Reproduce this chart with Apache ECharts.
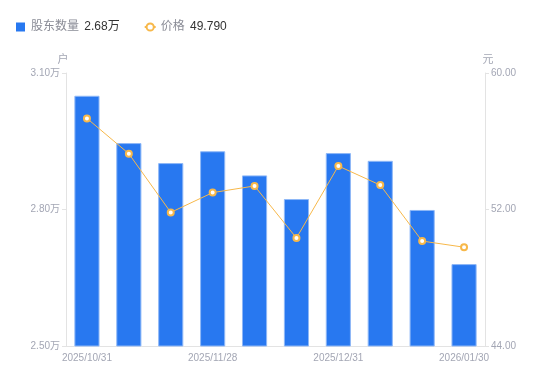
<!DOCTYPE html>
<html><head><meta charset="utf-8">
<script src="https://cdn.jsdelivr.net/npm/echarts@6/dist/echarts.min.js"></script>
<style>html,body{margin:0;padding:0;background:#fff}#c{width:550px;height:381px}</style>
</head><body><div id="c"></div>
<script>
const categories = ['2025/10/31','2025/11/10','2025/11/20','2025/11/28','2025/12/10','2025/12/19','2025/12/31','2026/01/09','2026/01/20','2026/01/30'];
const holders = [30500, 29460, 29020, 29280, 28750, 28230, 29240, 29070, 27990, 26800];
const prices = [57.34, 55.27, 51.83, 52.99, 53.38, 50.33, 54.55, 53.43, 50.15, 49.79];
const leftTicks = [25000, 28000, 31000];
const rightTicks = [44, 52, 60];

const chart = echarts.init(document.getElementById('c'));
const fmtW = v => (v/10000).toFixed(2) + '万';
const labelColor = '#a3a6b4';
chart.setOption({
  animation: false,
  textStyle: {fontFamily: 'Arial, "Liberation Sans", "Noto Sans CJK SC", sans-serif'},
  legend: {
    left: 11, top: 16, itemWidth: 11, itemHeight: 9, itemGap: 24,
    data: [{name: '股东数量', icon: 'path://M0,0h10v10h-10z', itemStyle: {borderWidth: 0}}, {name: '价格'}],
    formatter: name => name === '股东数量'
      ? '{n|' + name + '} {v|' + fmtW(holders[holders.length-1]) + '}'
      : '{n|' + name + '} {v|' + prices[prices.length-1].toFixed(3) + '}',
    textStyle: {rich: {n: {color: '#8a8c96', fontSize: 12, padding: [0, 2, 0, 0]}, v: {color: '#333', fontSize: 12}}}
  },
  grid: {left: 66, right: 65, top: 73, bottom: 35},
  xAxis: {
    type: 'category', data: categories,
    axisLine: {lineStyle: {color: '#e3e3e3'}},
    axisTick: {show: false},
    axisLabel: {color: labelColor, fontSize: 10, interval: 2, margin: 7}
  },
  yAxis: [{
    type: 'value', min: 25000, max: 31000, name: '户',
    nameTextStyle: {color: labelColor, fontSize: 11, padding: [0, 6, 0, 0]},
    nameGap: 8,
    axisLine: {show: true, lineStyle: {color: '#e3e3e3'}},
    axisTick: {show: true, length: 4, lineStyle: {color: '#e3e3e3'}, customValues: leftTicks},
    splitLine: {show: false},
    axisLabel: {color: labelColor, fontSize: 10, margin: 6, customValues: leftTicks, formatter: fmtW}
  }, {
    type: 'value', min: 44, max: 60, name: '元', position: 'right',
    nameTextStyle: {color: labelColor, fontSize: 11, padding: [0, 0, 0, 6]},
    nameGap: 8,
    axisLine: {show: true, lineStyle: {color: '#e3e3e3'}},
    axisTick: {show: true, length: 4, lineStyle: {color: '#e3e3e3'}, customValues: rightTicks},
    splitLine: {show: false},
    axisLabel: {color: labelColor, fontSize: 10, margin: 6, customValues: rightTicks, formatter: v => v.toFixed(2)}
  }],
  series: [{
    name: '股东数量', type: 'bar', data: holders, barWidth: '60%',
    itemStyle: {color: '#2878f0', borderColor: '#8fb8f7', borderWidth: 1}
  }, {
    name: '价格', type: 'line', yAxisIndex: 1, data: prices,
    symbol: 'circle', symbolSize: 6,
    lineStyle: {color: '#f7b84a', width: 1},
    itemStyle: {color: '#fff', borderColor: '#f7b84a', borderWidth: 2}
  }]
});
</script></body></html>
